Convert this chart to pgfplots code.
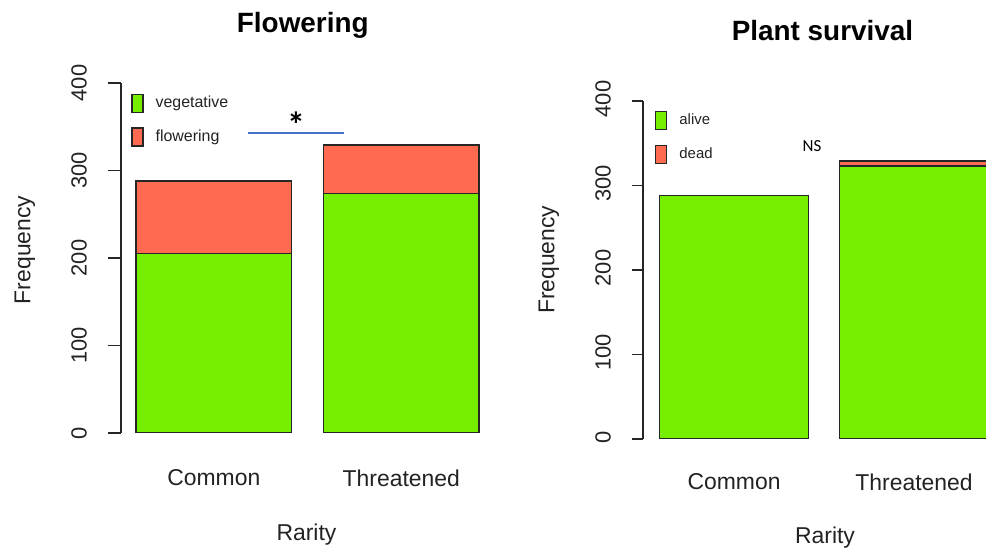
\documentclass[border=0pt]{standalone}
\usepackage{fontspec}
\setmainfont{Liberation Sans}
\newfontfamily\annfont{Carlito}
\usepackage{pgfplots}
\pgfplotsset{compat=1.18}

\definecolor{vegGreen}{RGB}{118,238,0}
\definecolor{flowRed}{RGB}{255,106,80}
\definecolor{sigBlue}{RGB}{68,114,196}
\definecolor{rText}{RGB}{34,34,34}

% R barplot look: outside ticks, no box, no x axis line
\pgfplotsset{
  rbars/.style={
    scale only axis,
    ybar stacked,
    bar width=0.83,
    ymin=0, ymax=400,
    ytick={0,100,200,300,400},
    xtick={0,1},
    xticklabels={Common,Threatened},
    axis lines*=left,
    x axis line style={draw=none},
    xtick style={draw=none},
    tick align=outside,
    axis line style={line width=0.65bp, black!85},
    ytick style={line width=0.65bp, black!85},
    /pgf/number format/assume math mode=true,
    tick label style={text=rText},
    yticklabel style={font=\fontsize{11}{12}\selectfont, anchor=center, xshift=-14.5bp, rotate=90},
    xticklabel style={font=\fontsize{11.5}{13}\selectfont, anchor=center, yshift=-16bp},
    label style={font=\fontsize{11.5}{13}\selectfont, text=rText},
    title style={font=\bfseries\fontsize{14}{16}\selectfont, anchor=center},
    legend style={draw=none, fill=none, inner sep=0pt, anchor=north west,
      cells={anchor=west}, row sep=5.5bp, text=rText,
      /tikz/every odd column/.append style={column sep=4bp}},
    every axis plot post/.append style={draw=black!85, line width=0.65bp,
      legend image code/.code={\draw[##1, draw=black!85, line width=0.6bp] (0bp,-4.5bp) rectangle (5.5bp,4.5bp);}},
  }
}

\begin{document}
\begin{tikzpicture}
\useasboundingbox (0,0) rectangle (493bp,275.5bp);
\clip (0,0) rectangle (493bp,275.5bp);

% Flowering
\begin{axis}[rbars,
  at={(60.5bp,59bp)}, anchor=south west,
  width=185.5bp, height=175bp,
  xmin=-0.495, xmax=1.484,
  major tick length=6.5bp,
  title={Flowering},
  title style={at={(axis description cs:0.49,1)}, yshift=23bp},
  xlabel={Rarity},
  xlabel style={at={(axis description cs:0.5,-0.291)}, anchor=center},
  ylabel={Frequency},
  ylabel style={at={(axis description cs:-0.259,0.523)}, anchor=center},
  legend style={at={(axis description cs:0.027,0.975)}, font=\fontsize{8}{9}\selectfont},
]
\addplot[fill=vegGreen] coordinates {(0,205) (1,274)};
\addplot[fill=flowRed] coordinates {(0,83) (1,55)};
\legend{vegetative, flowering}
\end{axis}

% Plant survival
\begin{axis}[rbars,
  at={(321.5bp,56bp)}, anchor=south west,
  width=179.5bp, height=169bp,
  xmin=-0.506, xmax=1.489,
  major tick length=5.5bp,
  yticklabel style={xshift=1bp},
  legend style={row sep=6bp},
  title={Plant survival},
  title style={at={(axis description cs:0.5,1)}, yshift=29.5bp},
  xlabel={Rarity},
  xlabel style={at={(axis description cs:0.507,-0.293)}, anchor=center},
  ylabel={Frequency},
  ylabel style={at={(axis description cs:-0.262,0.53)}, anchor=center},
  legend style={at={(axis description cs:0.033,0.975)}, font=\fontsize{7.5}{9}\selectfont},
]
\addplot[fill=vegGreen] coordinates {(0,288) (1,323)};
\addplot[fill=flowRed] coordinates {(0,0) (1,6)};
\legend{alive, dead}
\end{axis}

% significance annotations
\draw[sigBlue, line width=0.6bp] (124bp,209bp) -- (172bp,209bp);
\node[font=\annfont\bfseries\fontsize{18}{18}\selectfont] at (148bp,213bp) {*};
\node[font=\annfont\fontsize{8.5}{10}\selectfont] at (406bp,202.5bp) {NS};
\end{tikzpicture}
\end{document}
